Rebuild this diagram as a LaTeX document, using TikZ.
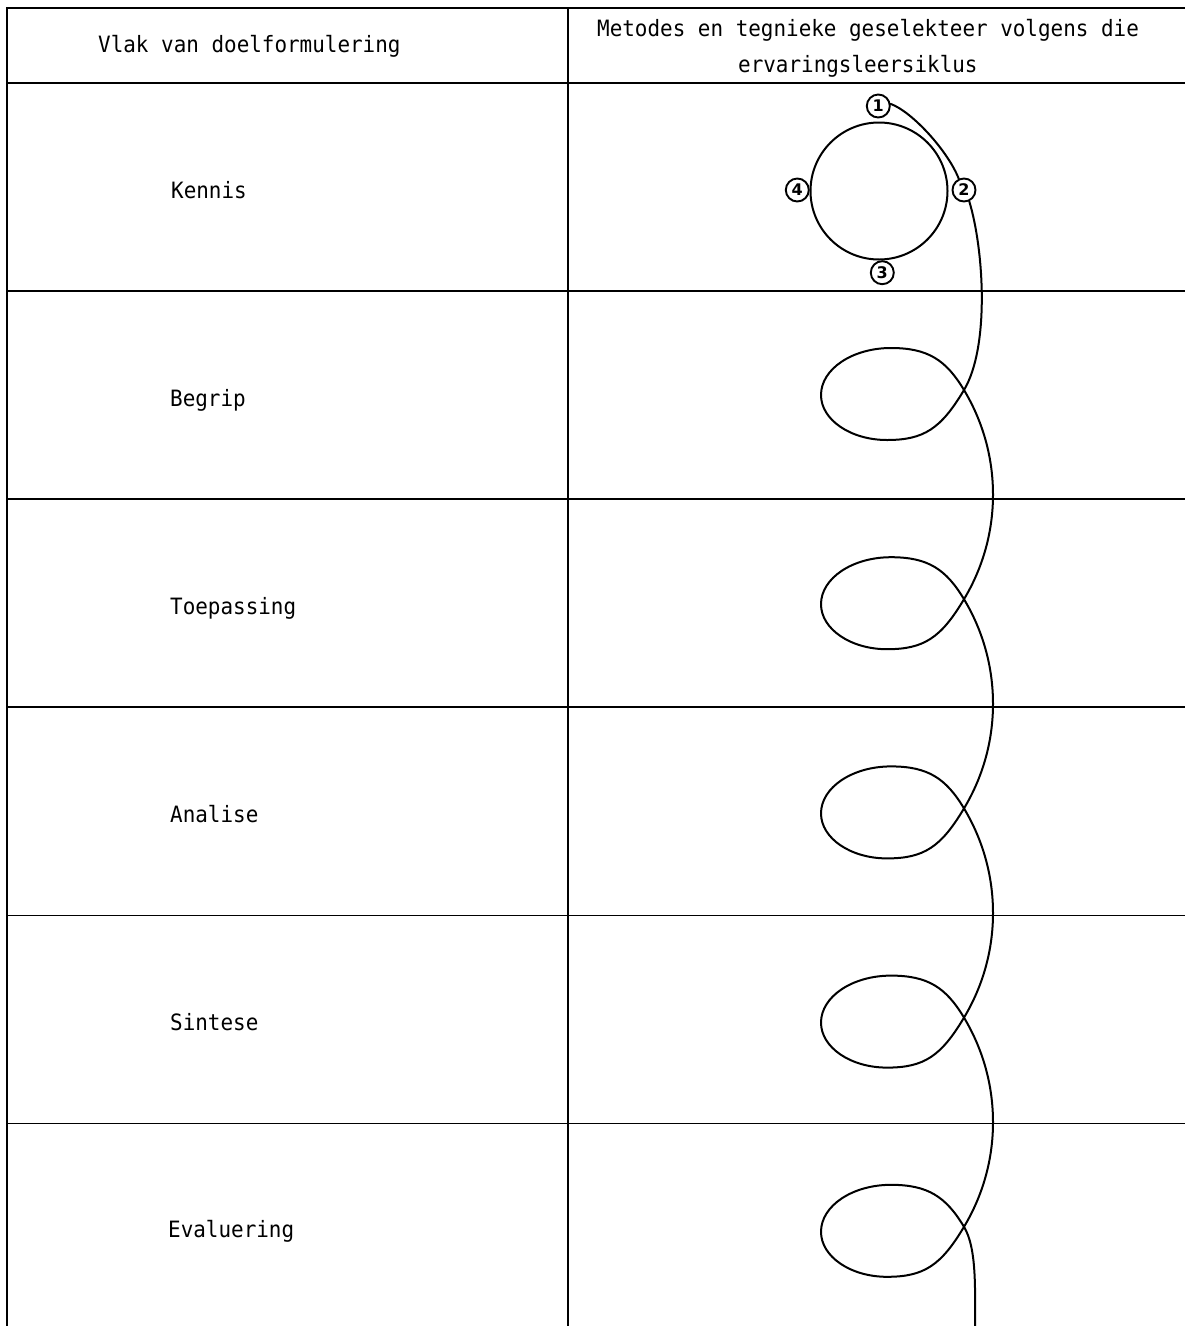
\documentclass[tikz,border=0pt]{standalone}
\usepackage{fontspec}
\newfontfamily\typefont[FakeStretch=0.93]{DejaVu Sans Mono}
\newfontfamily\numfont{DejaVu Sans}
\begin{document}
\begin{tikzpicture}[x=1pt,y=-1pt,
  rule/.style={line width=1.8pt},
  curve/.style={line width=2pt, line cap=round, line join=round},
  lbl/.style={font=\typefont\fontsize{22.5}{27}\selectfont, anchor=base west, inner sep=0pt},
  num/.style={circle, draw, line width=1.9pt, minimum size=23pt, inner sep=0pt,
              font=\numfont\bfseries\fontsize{16}{18}\selectfont}]
\useasboundingbox (0,0) rectangle (1185,1326);

% table rules
\draw[rule] (1185,8) -- (7,8) -- (7,1326);
\draw[rule] (568,8) -- (568,1326);
\foreach \y in {83,291.1,499.2,707.3,915.4,1123.5}
  \draw[rule] (7,\y) -- (1185,\y);

% header texts
\node[lbl] (hleft) at (98,52) {Vlak van doelformulering};
\node[lbl] (hright1) at (597,36) {Metodes en tegnieke geselekteer volgens die};
\node[lbl] (hright2) at (738,72) {ervaringsleersiklus};

% row labels
\node[lbl] (kennis) at (171,198) {Kennis};
\node[lbl] (begrip) at (170,406) {Begrip};
\node[lbl] (toepassing) at (170,614) {Toepassing};
\node[lbl] (analise) at (170,822) {Analise};
\node[lbl] (sintese) at (170,1030) {Sintese};
\node[lbl] (evaluering) at (168,1237) {Evaluering};

% learning cycle
\node[circle, draw, line width=2pt, minimum size=137pt, inner sep=0pt] (cycle) at (879,191) {};
\node[num] (c1) at (878.3,106) {1};
\node[num] (c2) at (964,190) {2};
\node[num] (c3) at (882.3,272.7) {3};
\node[num] (c4) at (797.3,190) {4};

% spiral
\draw[curve] (c1.10) .. controls (912.7,112) and (948.3,151.7) .. (c2.115);
\draw[curve] (c2.-65) .. controls (984,250) and (989.7,347) .. (964,390)
  \foreach \cy in {390,599.2,808.4,1017.6}{
    .. controls (941,\cy+38.6) and (924,\cy+50) .. (887,\cy+50)
    .. controls (850.6,\cy+50) and (821,\cy+29.8) .. (821,\cy+5)
    .. controls (821,\cy-21) and (852.4,\cy-42) .. (891,\cy-42)
    .. controls (928,\cy-42) and (946,\cy-30) .. (964,\cy)
    .. controls (983,\cy+31.7) and (993,\cy+67.6) .. (993,\cy+104.6)
    .. controls (993,\cy+141.6) and (983,\cy+177.5) .. (964,\cy+209.2)
  }
  .. controls (941,1265.4) and (924,1276.8) .. (887,1276.8)
  .. controls (850.6,1276.8) and (821,1256.6) .. (821,1231.8)
  .. controls (821,1205.8) and (852.4,1184.8) .. (891,1184.8)
  .. controls (928,1184.8) and (946,1196.8) .. (964,1226.8)
  .. controls (976.9,1248.2) and (975,1290) .. (975,1326);
\end{tikzpicture}
\end{document}
